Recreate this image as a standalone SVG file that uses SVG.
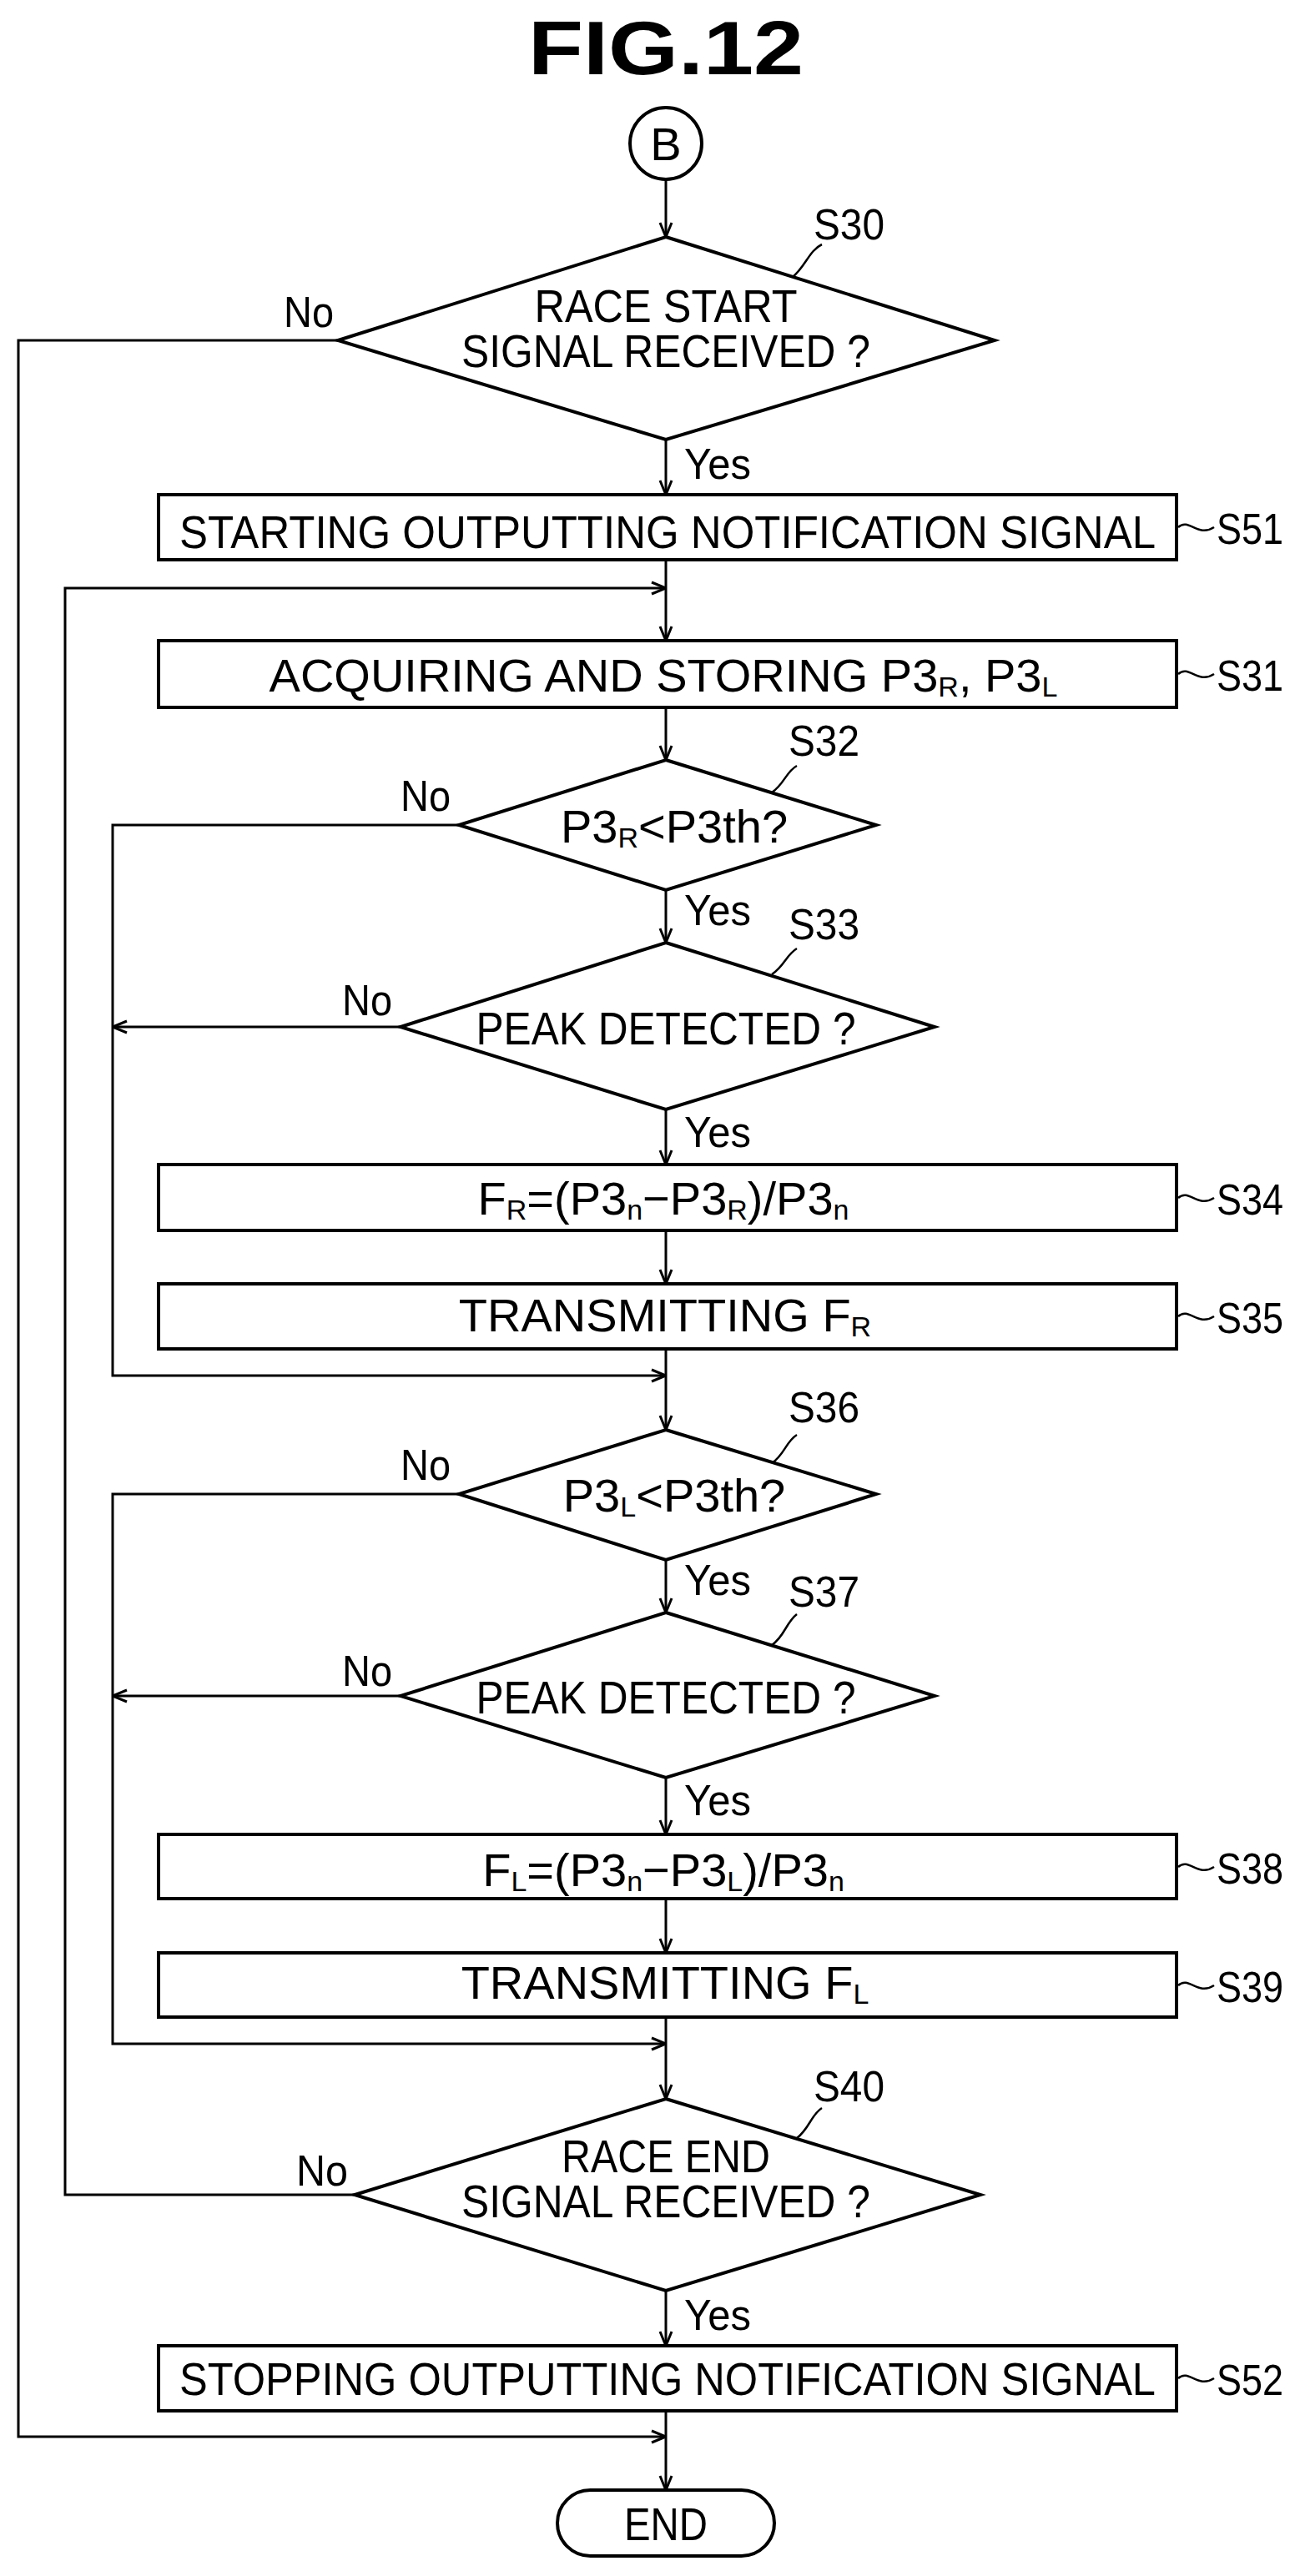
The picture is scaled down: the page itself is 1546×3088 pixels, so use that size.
<svg xmlns="http://www.w3.org/2000/svg" width="1546" height="3088" viewBox="0 0 1546 3088">
<defs>
<marker id="ar" viewBox="0 0 20 20" refX="19" refY="10" markerWidth="20" markerHeight="20" markerUnits="userSpaceOnUse" orient="auto">
<path d="M2,3 L19,10 L2,17" fill="none" stroke="#000" stroke-width="3"/>
</marker>
<style>
.s{fill:#fff;stroke:#000;stroke-width:4}
.c{fill:none;stroke:#000;stroke-width:3}
.l{fill:none;stroke:#000;stroke-width:2.5}
text{font-family:"Liberation Sans",Arial,sans-serif;fill:#000}
.t{font-size:56px;text-anchor:middle}
.d{font-size:52px}
.sub{font-size:34px}
</style>
</defs>
<text x="798" y="89" font-size="90" font-weight="bold" text-anchor="middle" textLength="330" lengthAdjust="spacingAndGlyphs">FIG.12</text>

<g id="connectors">
<path class="c" d="M798,215 V284" marker-end="url(#ar)"/>
<path class="c" d="M798,527 V593" marker-end="url(#ar)"/>
<path class="c" d="M798,671 V768" marker-end="url(#ar)"/>
<path class="c" d="M425,2631 H78 V705 H798" marker-end="url(#ar)"/>
<path class="c" d="M798,848 V911" marker-end="url(#ar)"/>
<path class="c" d="M550,989 H135 V1649 H798" marker-end="url(#ar)"/>
<path class="c" d="M798,1067 V1130" marker-end="url(#ar)"/>
<path class="c" d="M480,1231 H135" marker-end="url(#ar)"/>
<path class="c" d="M798,1330 V1396" marker-end="url(#ar)"/>
<path class="c" d="M798,1475 V1539" marker-end="url(#ar)"/>
<path class="c" d="M798,1617 V1714" marker-end="url(#ar)"/>
<path class="c" d="M550,1791 H135 V2450 H798" marker-end="url(#ar)"/>
<path class="c" d="M798,1870 V1933" marker-end="url(#ar)"/>
<path class="c" d="M480,2033 H135" marker-end="url(#ar)"/>
<path class="c" d="M798,2131 V2199" marker-end="url(#ar)"/>
<path class="c" d="M798,2276 V2341" marker-end="url(#ar)"/>
<path class="c" d="M798,2418 V2516" marker-end="url(#ar)"/>
<path class="c" d="M798,2746 V2812" marker-end="url(#ar)"/>
<path class="c" d="M798,2890 V2985" marker-end="url(#ar)"/>
<path class="c" d="M405,408 H22 V2921 H798" marker-end="url(#ar)"/>
</g>

<g id="B"><circle class="s" cx="798" cy="172" r="43"/><text class="t" x="798" y="192" font-size="54">B</text></g>

<g id="S30">
<polygon class="s" points="798,284 1192,408 798,527 405,408"/>
<text class="t" x="798" y="386" textLength="315" lengthAdjust="spacingAndGlyphs">RACE START</text>
<text class="t" x="798" y="440" textLength="490" lengthAdjust="spacingAndGlyphs">SIGNAL RECEIVED ?</text>
<text class="d" x="340" y="392" textLength="60" lengthAdjust="spacingAndGlyphs">No</text>
<text class="d" x="820" y="574" textLength="80" lengthAdjust="spacingAndGlyphs">Yes</text>
<path class="l" d="M950,332 C965,320 970,300 985,293"/>
<text class="d" x="975" y="287" textLength="85" lengthAdjust="spacingAndGlyphs">S30</text>
</g>

<g id="S51">
<rect class="s" x="190" y="593" width="1220" height="78"/>
<text class="t" x="800" y="657" font-size="62" textLength="1170" lengthAdjust="spacingAndGlyphs">STARTING OUTPUTTING NOTIFICATION SIGNAL</text>
<path class="l" d="M1412,632 C1425,620 1435,645 1455,632"/>
<text class="d" x="1458" y="652" textLength="80" lengthAdjust="spacingAndGlyphs">S51</text>
</g>

<g id="S31">
<rect class="s" x="190" y="768" width="1220" height="80"/>
<text class="t" x="795" y="829" font-size="58">ACQUIRING AND STORING P3<tspan class="sub" dy="6">R</tspan><tspan dy="-6">, P3</tspan><tspan class="sub" dy="6">L</tspan></text>
<path class="l" d="M1412,808 C1425,796 1435,821 1455,808"/>
<text class="d" x="1458" y="828" textLength="80" lengthAdjust="spacingAndGlyphs">S31</text>
</g>

<g id="S32">
<polygon class="s" points="798,911 1050,989 798,1067 550,989"/>
<text class="t" x="808" y="1010" font-size="54">P3<tspan class="sub" dy="6">R</tspan><tspan dy="-6">&lt;P3th?</tspan></text>
<text class="d" x="480" y="972" textLength="60" lengthAdjust="spacingAndGlyphs">No</text>
<text class="d" x="820" y="1109" textLength="80" lengthAdjust="spacingAndGlyphs">Yes</text>
<path class="l" d="M925,950 C940,940 942,925 955,918"/>
<text class="d" x="945" y="906" textLength="85" lengthAdjust="spacingAndGlyphs">S32</text>
</g>

<g id="S33">
<polygon class="s" points="798,1130 1120,1231 798,1330 480,1231"/>
<text class="t" x="798" y="1252" textLength="455" lengthAdjust="spacingAndGlyphs">PEAK DETECTED ?</text>
<text class="d" x="410" y="1217" textLength="60" lengthAdjust="spacingAndGlyphs">No</text>
<text class="d" x="820" y="1375" textLength="80" lengthAdjust="spacingAndGlyphs">Yes</text>
<path class="l" d="M925,1168 C940,1158 942,1145 955,1137"/>
<text class="d" x="945" y="1126" textLength="85" lengthAdjust="spacingAndGlyphs">S33</text>
</g>

<g id="S34">
<rect class="s" x="190" y="1396" width="1220" height="79"/>
<text class="t" x="795" y="1456" font-size="56">F<tspan class="sub" dy="6">R</tspan><tspan dy="-6">=(P3</tspan><tspan class="sub" dy="6">n</tspan><tspan dy="-6">−P3</tspan><tspan class="sub" dy="6">R</tspan><tspan dy="-6">)/P3</tspan><tspan class="sub" dy="6">n</tspan></text>
<path class="l" d="M1412,1436 C1425,1424 1435,1449 1455,1436"/>
<text class="d" x="1458" y="1456" textLength="80" lengthAdjust="spacingAndGlyphs">S34</text>
</g>

<g id="S35">
<rect class="s" x="190" y="1539" width="1220" height="78"/>
<text class="t" x="797" y="1596" font-size="56">TRANSMITTING F<tspan class="sub" dy="6">R</tspan></text>
<path class="l" d="M1412,1578 C1425,1566 1435,1591 1455,1578"/>
<text class="d" x="1458" y="1598" textLength="80" lengthAdjust="spacingAndGlyphs">S35</text>
</g>

<g id="S36">
<polygon class="s" points="798,1714 1050,1791 798,1870 550,1791"/>
<text class="t" x="808" y="1812" font-size="54">P3<tspan class="sub" dy="6">L</tspan><tspan dy="-6">&lt;P3th?</tspan></text>
<text class="d" x="480" y="1774" textLength="60" lengthAdjust="spacingAndGlyphs">No</text>
<text class="d" x="820" y="1912" textLength="80" lengthAdjust="spacingAndGlyphs">Yes</text>
<path class="l" d="M925,1754 C940,1744 942,1728 955,1720"/>
<text class="d" x="945" y="1705" textLength="85" lengthAdjust="spacingAndGlyphs">S36</text>
</g>

<g id="S37">
<polygon class="s" points="798,1933 1120,2033 798,2131 480,2033"/>
<text class="t" x="798" y="2054" textLength="455" lengthAdjust="spacingAndGlyphs">PEAK DETECTED ?</text>
<text class="d" x="410" y="2021" textLength="60" lengthAdjust="spacingAndGlyphs">No</text>
<text class="d" x="820" y="2176" textLength="80" lengthAdjust="spacingAndGlyphs">Yes</text>
<path class="l" d="M925,1972 C940,1962 942,1945 955,1935"/>
<text class="d" x="945" y="1926" textLength="85" lengthAdjust="spacingAndGlyphs">S37</text>
</g>

<g id="S38">
<rect class="s" x="190" y="2199" width="1220" height="77"/>
<text class="t" x="795" y="2261" font-size="56">F<tspan class="sub" dy="6">L</tspan><tspan dy="-6">=(P3</tspan><tspan class="sub" dy="6">n</tspan><tspan dy="-6">−P3</tspan><tspan class="sub" dy="6">L</tspan><tspan dy="-6">)/P3</tspan><tspan class="sub" dy="6">n</tspan></text>
<path class="l" d="M1412,2238 C1425,2226 1435,2251 1455,2238"/>
<text class="d" x="1458" y="2258" textLength="80" lengthAdjust="spacingAndGlyphs">S38</text>
</g>

<g id="S39">
<rect class="s" x="190" y="2341" width="1220" height="77"/>
<text class="t" x="797" y="2396" font-size="56">TRANSMITTING F<tspan class="sub" dy="6">L</tspan></text>
<path class="l" d="M1412,2380 C1425,2368 1435,2393 1455,2380"/>
<text class="d" x="1458" y="2400" textLength="80" lengthAdjust="spacingAndGlyphs">S39</text>
</g>

<g id="S40">
<polygon class="s" points="798,2516 1175,2631 798,2746 425,2631"/>
<text class="t" x="798" y="2604" textLength="250" lengthAdjust="spacingAndGlyphs">RACE END</text>
<text class="t" x="798" y="2658" textLength="490" lengthAdjust="spacingAndGlyphs">SIGNAL RECEIVED ?</text>
<text class="d" x="355" y="2620" textLength="62" lengthAdjust="spacingAndGlyphs">No</text>
<text class="d" x="820" y="2793" textLength="80" lengthAdjust="spacingAndGlyphs">Yes</text>
<path class="l" d="M955,2563 C970,2552 972,2535 985,2527"/>
<text class="d" x="975" y="2519" textLength="85" lengthAdjust="spacingAndGlyphs">S40</text>
</g>

<g id="S52">
<rect class="s" x="190" y="2812" width="1220" height="78"/>
<text class="t" x="800" y="2871" font-size="62" textLength="1170" lengthAdjust="spacingAndGlyphs">STOPPING OUTPUTTING NOTIFICATION SIGNAL</text>
<path class="l" d="M1412,2851 C1425,2839 1435,2864 1455,2851"/>
<text class="d" x="1458" y="2871" textLength="80" lengthAdjust="spacingAndGlyphs">S52</text>
</g>

<g id="END">
<rect class="s" x="668" y="2985" width="260" height="79" rx="39.5"/>
<text class="t" x="798" y="3045" textLength="100" lengthAdjust="spacingAndGlyphs">END</text>
</g>
</svg>
